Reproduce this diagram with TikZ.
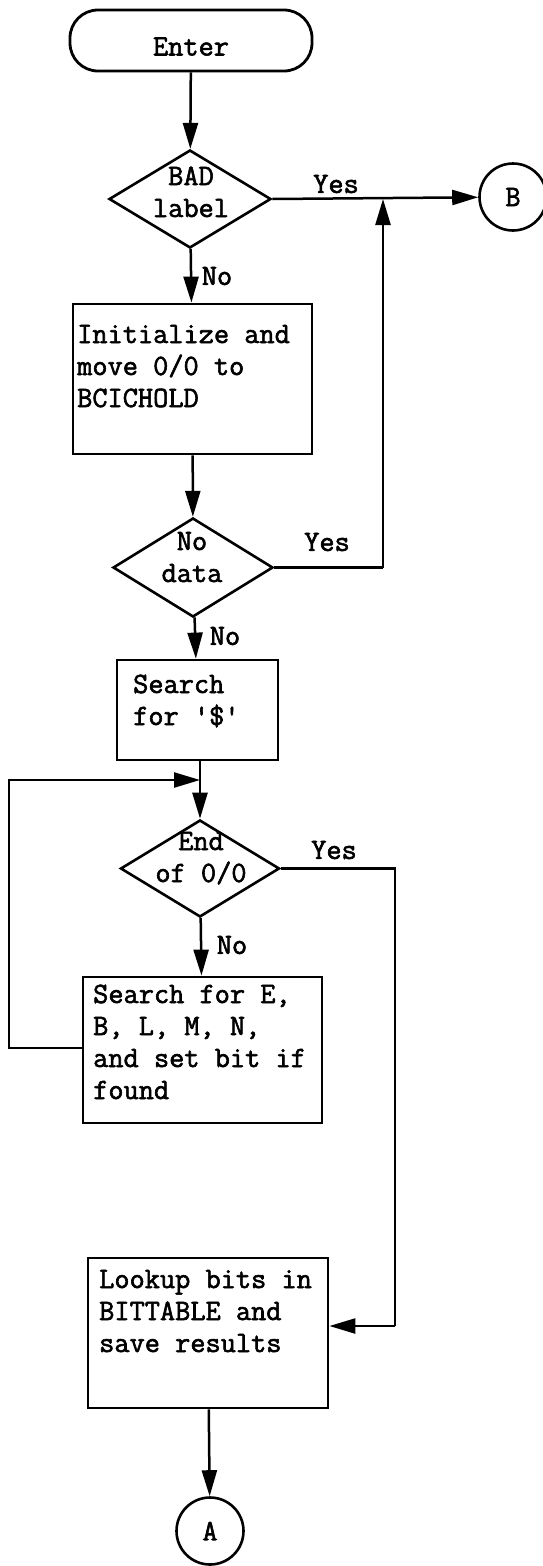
\documentclass[tikz,border=0pt]{standalone}
\usepackage{fontspec}
\usetikzlibrary{shapes.geometric,arrows.meta,calc}
\newfontfamily\typewr{lmmono12-regular}[Extension=.otf, FakeBold=2]
\newcommand{\tw}{\typewr\fontsize{29.5}{32}\selectfont}
\newcommand{\mlines}[1]{\parbox[t]{300pt}{\raggedright\tw #1}}
\newcommand{\clines}[1]{\parbox[t]{160pt}{\centering\tw #1}}
\begin{document}
\begin{tikzpicture}[x=1pt,y=-1pt,
  box/.style={draw, line width=2.8pt, inner sep=0pt},
  dec/.style={draw, diamond, line width=2.6pt, inner sep=0pt},
  circ/.style={draw, circle, line width=2.6pt, minimum size=67pt, inner sep=0pt, font=\tw},
  lbl/.style={inner sep=0pt, font=\tw},
  txt/.style={inner sep=0pt, anchor=base west},
  ctxt/.style={inner sep=0pt, anchor=base},
  conn/.style={line width=2.5pt},
  arr/.style={conn, -{Triangle[length=26pt,width=15pt]}},
]
\useasboundingbox (0,0) rectangle (542,1566);
\fill[white] (0,0) rectangle (542,1566);

% nodes
\node[box, rounded corners=28pt, minimum width=242pt, minimum height=61pt,
      font=\tw, text height=30pt, text depth=0pt] (enter) at (191,40.5) {Enter};

\node[dec, minimum width=162pt, minimum height=98pt] (bad) at (190,199) {};
\node[ctxt] (badt) at (191,185) {\clines{BAD\\label}};

\node[box, minimum width=239pt, minimum height=150pt] (init) at (192.5,379) {};
\node[txt] (initt) at (77,343) {\mlines{Initialize and\\move 0/0 to\\BCICHOLD}};

\node[dec, minimum width=160pt, minimum height=99pt] (nodata) at (193,567.5) {};
\node[ctxt] (nodatat) at (192,550) {\clines{No\\data}};

\node[box, minimum width=161pt, minimum height=100pt] (search) at (197.5,710) {};
\node[txt] (searcht) at (133,693) {\mlines{Search\\for \textquotesingle\$\textquotesingle}};

\node[dec, minimum width=159pt, minimum height=97pt] (endd) at (200,868.5) {};
\node[ctxt] (enddt) at (201,850) {\clines{End\\of 0/0}};

\node[box, minimum width=239pt, minimum height=146pt] (search2) at (202.5,1050) {};
\node[txt] (search2t) at (93,1003) {\mlines{Search for E,\\B, L, M, N,\\and set bit if\\found}};

\node[box, minimum width=240pt, minimum height=150pt] (lookup) at (208,1333) {};
\node[txt] (lookupt) at (99,1288) {\mlines{Lookup bits in\\BITTABLE and\\save results}};

\node[circ] (B) at (513,197) {B};
\node[circ] (A) at (210,1531) {A};

% labels
\node[lbl] (yes1) at (336,184) {Yes};
\node[lbl] (yes2) at (327,542) {Yes};
\node[lbl] (yes3) at (334,850) {Yes};
\node[lbl] (no1) at (217,276) {No};
\node[lbl] (no2) at (225,636) {No};
\node[lbl] (no3) at (232,945) {No};

% junctions / corners
\coordinate (j1) at (383,199);
\coordinate (j2) at (200,780);
\coordinate (c1) at (383,567.5);
\coordinate (c2) at (395,868.5);
\coordinate (c3) at (395,1326);
\coordinate (c4) at (9,1048);
\coordinate (c5) at (9,780);

% connectors
\draw[arr] (enter) -- (bad);
\draw[arr] (bad.east) -- (B);
\draw[arr] (bad) -- (init);
\draw[arr] (init) -- (nodata);
\draw[conn] (nodata.east) -- (c1);
\draw[arr] (c1) -- (j1);
\draw[arr] (nodata) -- (search);
\draw[conn] (search.south -| j2) -- (j2);
\draw[arr] (j2) -- (endd.north);
\draw[arr] (c4 -| search2.west) -- (c4) -- (c5) -- (j2);
\draw[arr] (endd) -- (search2);
\draw[conn] (endd.east) -- (c2) -- (c3);
\draw[arr] (c3) -- (c3 -| lookup.east);
\draw[arr] (lookup) -- (A);
\end{tikzpicture}
\end{document}
